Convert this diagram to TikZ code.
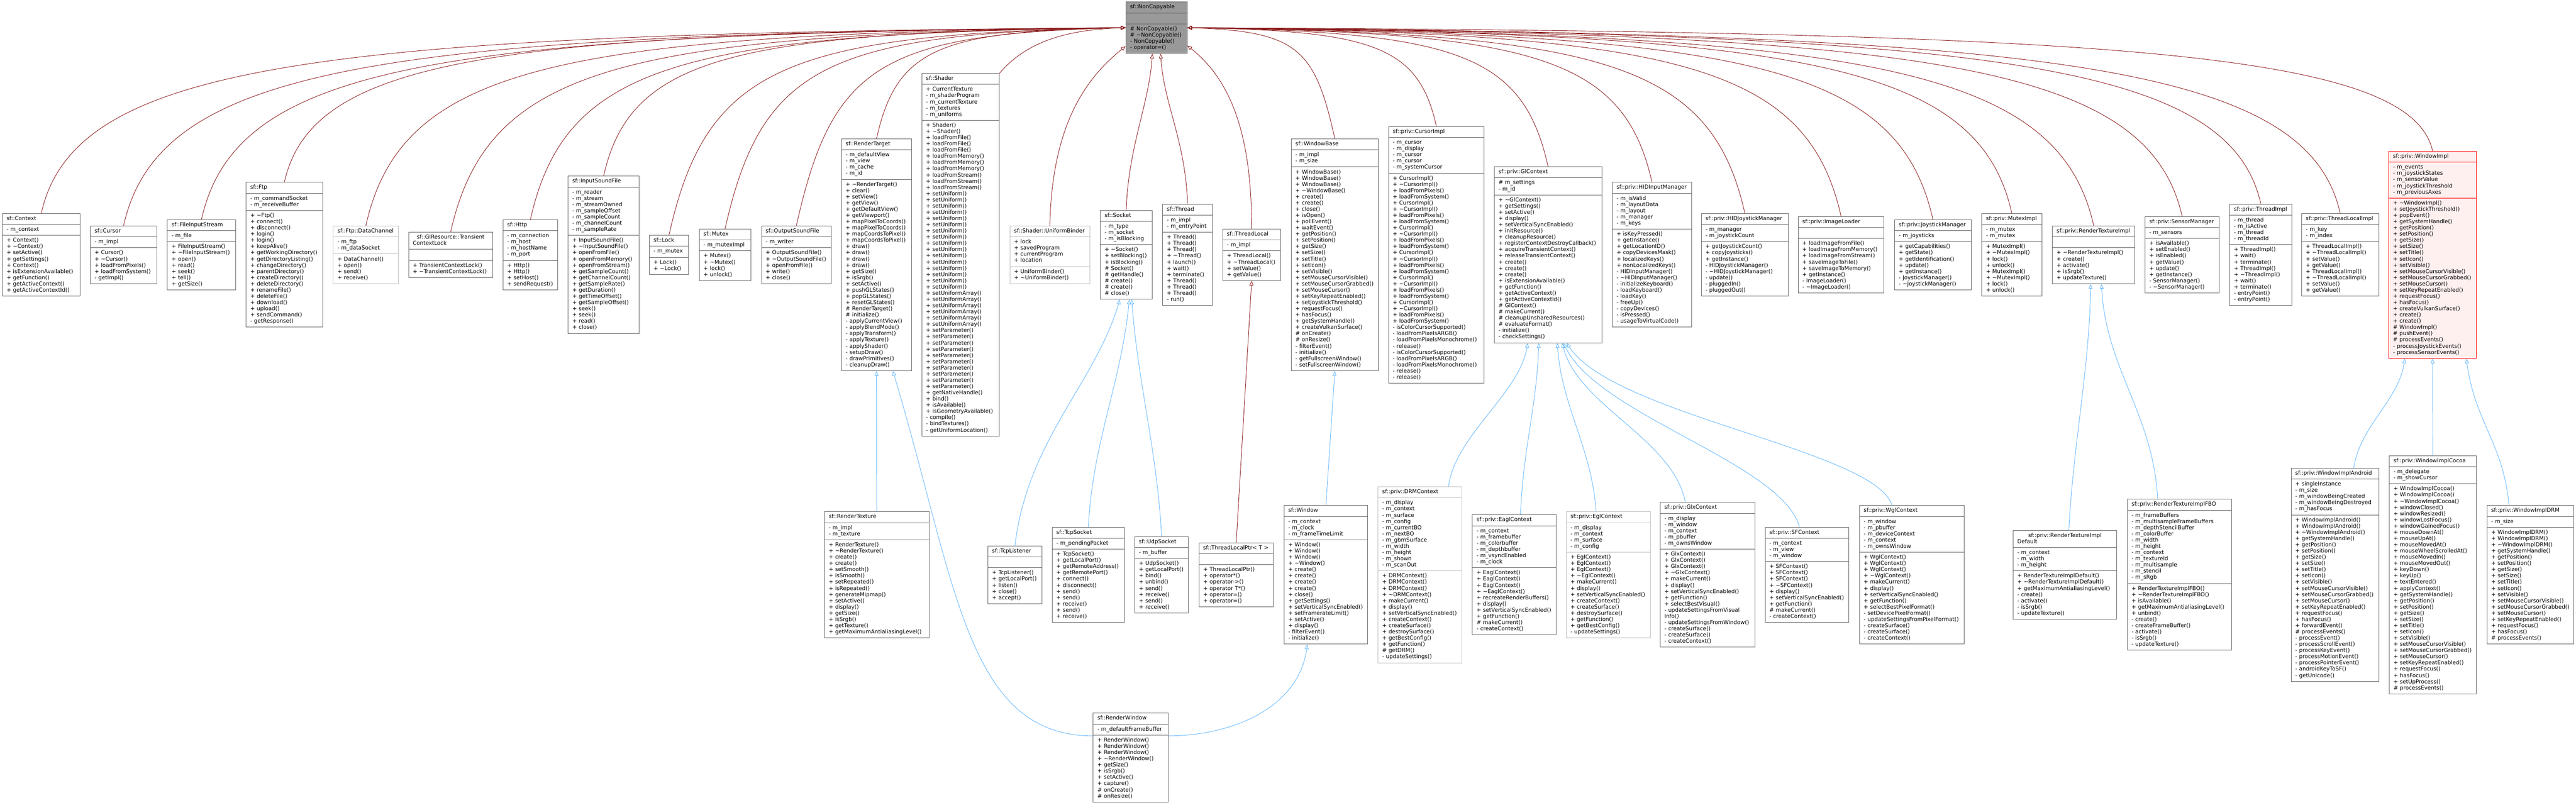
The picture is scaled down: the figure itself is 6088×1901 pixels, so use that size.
\documentclass[tikz,border=0pt]{standalone}
\usepackage[usenames,dvipsnames]{xcolor}
\usepackage{fontspec}
\setmainfont{DejaVu Sans}
\usetikzlibrary{shapes.multipart}
\usetikzlibrary{arrows.meta}
\definecolor{nodegray}{HTML}{666666}
\definecolor{undocgray}{HTML}{BFBFBF}
\definecolor{basegray}{HTML}{999999}
\definecolor{firebrick}{HTML}{8B1A1A}
\definecolor{steelblue}{HTML}{63B8FF}
\definecolor{focusred}{HTML}{FF0000}
\definecolor{focusfill}{HTML}{FFF0F0}
\newcommand{\tld}{\textasciitilde}
\setlength{\parindent}{0pt}
\tikzstyle{cls}=[rectangle split, rectangle split parts=3, draw=nodegray, fill=white, line width=1.2pt, inner xsep=10pt, inner ysep=5pt, anchor=west, align=left, font=\fontsize{12.9}{14.7}\selectfont]
\tikzstyle{undoc}=[draw=undocgray]
\tikzstyle{priv}=[draw=firebrick, line width=1.1pt, -{Triangle[open,length=11pt,width=9pt]}]
\tikzstyle{pub}=[draw=steelblue, line width=1.1pt, -{Triangle[open,length=11pt,width=9pt]}]

\begin{document}
\begin{tikzpicture}[x=1pt,y=-1pt]
	\fill[white] (0,0) rectangle (6088,1901);
	\useasboundingbox (0,0) rectangle (6088,1901);

	\node(nc)[cls, fill=basegray, text width=125pt] at (2660,65.5) {\centering\strut sf::NonCopyable\strut
		\nodepart{two}\strut
		\nodepart{three}\strut\#~NonCopyable()\\\#~\tld NonCopyable()\\-~NonCopyable()\\-~operator=()\strut};

	\node(ctx)[cls, text width=164pt] at (5,602) {\centering\strut sf::Context\strut
		\nodepart{two}\strut-~m\_context\strut
		\nodepart{three}\strut+~Context()\\+~\tld Context()\\+~setActive()\\+~getSettings()\\+~Context()\\+~isExtensionAvailable()\\+~getFunction()\\+~getActiveContext()\\+~getActiveContextId()\strut};
	\node(cursor)[cls, text width=137pt] at (213,602) {\centering\strut sf::Cursor\strut
		\nodepart{two}\strut-~m\_impl\strut
		\nodepart{three}\strut+~Cursor()\\+~\tld Cursor()\\+~loadFromPixels()\\+~loadFromSystem()\\-~getImpl()\strut};
	\node(fis)[cls, text width=141pt] at (395,602) {\centering\strut sf::FileInputStream\strut
		\nodepart{two}\strut-~m\_file\strut
		\nodepart{three}\strut+~FileInputStream()\\+~\tld FileInputStream()\\+~open()\\+~read()\\+~seek()\\+~tell()\\+~getSize()\strut};
	\node(ftp)[cls, text width=161pt] at (581,602) {\centering\strut sf::Ftp\strut
		\nodepart{two}\strut-~m\_commandSocket\\-~m\_receiveBuffer\strut
		\nodepart{three}\strut+~\tld Ftp()\\+~connect()\\+~disconnect()\\+~login()\\+~login()\\+~keepAlive()\\+~getWorkingDirectory()\\+~getDirectoryListing()\\+~changeDirectory()\\+~parentDirectory()\\+~createDirectory()\\+~deleteDirectory()\\+~renameFile()\\+~deleteFile()\\+~download()\\+~upload()\\+~sendCommand()\\-~getResponse()\strut};
	\node(dchan)[cls, undoc, text width=134pt] at (787,602) {\centering\strut sf::Ftp::DataChannel\strut
		\nodepart{two}\strut-~m\_ftp\\-~m\_dataSocket\strut
		\nodepart{three}\strut+~DataChannel()\\+~open()\\+~send()\\+~receive()\strut};
	\node(tcl)[cls, text width=179pt] at (965,602) {\centering\strut sf::GlResource::Transient\\ContextLock\strut
		\nodepart{two}\strut
		\nodepart{three}\strut+~TransientContextLock()\\+~\tld TransientContextLock()\strut};
	\node(http)[cls, text width=110pt] at (1188,602) {\centering\strut sf::Http\strut
		\nodepart{two}\strut-~m\_connection\\-~m\_host\\-~m\_hostName\\-~m\_port\strut
		\nodepart{three}\strut+~Http()\\+~Http()\\+~setHost()\\+~sendRequest()\strut};
	\node(isf)[cls, text width=148pt] at (1342,602) {\centering\strut sf::InputSoundFile\strut
		\nodepart{two}\strut-~m\_reader\\-~m\_stream\\-~m\_streamOwned\\-~m\_sampleOffset\\-~m\_sampleCount\\-~m\_channelCount\\-~m\_sampleRate\strut
		\nodepart{three}\strut+~InputSoundFile()\\+~\tld InputSoundFile()\\+~openFromFile()\\+~openFromMemory()\\+~openFromStream()\\+~getSampleCount()\\+~getChannelCount()\\+~getSampleRate()\\+~getDuration()\\+~getTimeOffset()\\+~getSampleOffset()\\+~seek()\\+~seek()\\+~read()\\+~close()\strut};
	\node(lock)[cls, text width=73pt] at (1534,602) {\centering\strut sf::Lock\strut
		\nodepart{two}\strut-~m\_mutex\strut
		\nodepart{three}\strut+~Lock()\\+~\tld Lock()\strut};
	\node(mutex)[cls, text width=102pt] at (1652,602) {\centering\strut sf::Mutex\strut
		\nodepart{two}\strut-~m\_mutexImpl\strut
		\nodepart{three}\strut+~Mutex()\\+~\tld Mutex()\\+~lock()\\+~unlock()\strut};
	\node(osf)[cls, text width=145pt] at (1799,602) {\centering\strut sf::OutputSoundFile\strut
		\nodepart{two}\strut-~m\_writer\strut
		\nodepart{three}\strut+~OutputSoundFile()\\+~\tld OutputSoundFile()\\+~openFromFile()\\+~write()\\+~close()\strut};
	\node(rtarget)[cls, text width=146pt] at (1988,602) {\centering\strut sf::RenderTarget\strut
		\nodepart{two}\strut-~m\_defaultView\\-~m\_view\\-~m\_cache\\-~m\_id\strut
		\nodepart{three}\strut+~\tld RenderTarget()\\+~clear()\\+~setView()\\+~getView()\\+~getDefaultView()\\+~getViewport()\\+~mapPixelToCoords()\\+~mapPixelToCoords()\\+~mapCoordsToPixel()\\+~mapCoordsToPixel()\\+~draw()\\+~draw()\\+~draw()\\+~draw()\\+~getSize()\\+~isSrgb()\\+~setActive()\\+~pushGLStates()\\+~popGLStates()\\+~resetGLStates()\\\#~RenderTarget()\\\#~initialize()\\-~applyCurrentView()\\-~applyBlendMode()\\-~applyTransform()\\-~applyTexture()\\-~applyShader()\\-~setupDraw()\\-~drawPrimitives()\\-~cleanupDraw()\strut};
	\node(shader)[cls, text width=163pt] at (2178,602) {\centering\strut sf::Shader\strut
		\nodepart{two}\strut+~CurrentTexture\\-~m\_shaderProgram\\-~m\_currentTexture\\-~m\_textures\\-~m\_uniforms\strut
		\nodepart{three}\strut+~Shader()\\+~\tld Shader()\\+~loadFromFile()\\+~loadFromFile()\\+~loadFromFile()\\+~loadFromMemory()\\+~loadFromMemory()\\+~loadFromMemory()\\+~loadFromStream()\\+~loadFromStream()\\+~loadFromStream()\\+~setUniform()\\+~setUniform()\\+~setUniform()\\+~setUniform()\\+~setUniform()\\+~setUniform()\\+~setUniform()\\+~setUniform()\\+~setUniform()\\+~setUniform()\\+~setUniform()\\+~setUniform()\\+~setUniform()\\+~setUniform()\\+~setUniform()\\+~setUniform()\\+~setUniformArray()\\+~setUniformArray()\\+~setUniformArray()\\+~setUniformArray()\\+~setUniformArray()\\+~setUniformArray()\\+~setParameter()\\+~setParameter()\\+~setParameter()\\+~setParameter()\\+~setParameter()\\+~setParameter()\\+~setParameter()\\+~setParameter()\\+~setParameter()\\+~setParameter()\\+~getNativeHandle()\\+~bind()\\+~isAvailable()\\+~isGeometryAvailable()\\-~compile()\\-~bindTextures()\\-~getUniformLocation()\strut};
	\node(ubinder)[cls, undoc, text width=169pt] at (2386,602) {\centering\strut sf::Shader::UniformBinder\strut
		\nodepart{two}\strut+~lock\\+~savedProgram\\+~currentProgram\\+~location\strut
		\nodepart{three}\strut+~UniformBinder()\\+~\tld UniformBinder()\strut};
	\node(socket)[cls, text width=102pt] at (2600,602) {\centering\strut sf::Socket\strut
		\nodepart{two}\strut-~m\_type\\-~m\_socket\\-~m\_isBlocking\strut
		\nodepart{three}\strut+~\tld Socket()\\+~setBlocking()\\+~isBlocking()\\\#~Socket()\\\#~getHandle()\\\#~create()\\\#~create()\\\#~close()\strut};
	\node(thread)[cls, text width=98pt] at (2747,602) {\centering\strut sf::Thread\strut
		\nodepart{two}\strut-~m\_impl\\-~m\_entryPoint\strut
		\nodepart{three}\strut+~Thread()\\+~Thread()\\+~Thread()\\+~\tld Thread()\\+~launch()\\+~wait()\\+~terminate()\\+~Thread()\\+~Thread()\\+~Thread()\\-~run()\strut};
	\node(tlocal)[cls, text width=117pt] at (2889,602) {\centering\strut sf::ThreadLocal\strut
		\nodepart{two}\strut-~m\_impl\strut
		\nodepart{three}\strut+~ThreadLocal()\\+~\tld ThreadLocal()\\+~setValue()\\+~getValue()\strut};
	\node(wbase)[cls, text width=186pt] at (3051,602) {\centering\strut sf::WindowBase\strut
		\nodepart{two}\strut-~m\_impl\\-~m\_size\strut
		\nodepart{three}\strut+~WindowBase()\\+~WindowBase()\\+~WindowBase()\\+~\tld WindowBase()\\+~create()\\+~create()\\+~close()\\+~isOpen()\\+~pollEvent()\\+~waitEvent()\\+~getPosition()\\+~setPosition()\\+~getSize()\\+~setSize()\\+~setTitle()\\+~setIcon()\\+~setVisible()\\+~setMouseCursorVisible()\\+~setMouseCursorGrabbed()\\+~setMouseCursor()\\+~setKeyRepeatEnabled()\\+~setJoystickThreshold()\\+~requestFocus()\\+~hasFocus()\\+~getSystemHandle()\\+~createVulkanSurface()\\\#~onCreate()\\\#~onResize()\\-~filterEvent()\\-~initialize()\\-~getFullscreenWindow()\\-~setFullscreenWindow()\strut};
	\node(cimpl)[cls, text width=206pt] at (3281,602) {\centering\strut sf::priv::CursorImpl\strut
		\nodepart{two}\strut-~m\_cursor\\-~m\_display\\-~m\_cursor\\-~m\_cursor\\-~m\_systemCursor\strut
		\nodepart{three}\strut+~CursorImpl()\\+~\tld CursorImpl()\\+~loadFromPixels()\\+~loadFromSystem()\\+~CursorImpl()\\+~\tld CursorImpl()\\+~loadFromPixels()\\+~loadFromSystem()\\+~CursorImpl()\\+~\tld CursorImpl()\\+~loadFromPixels()\\+~loadFromSystem()\\+~CursorImpl()\\+~\tld CursorImpl()\\+~loadFromPixels()\\+~loadFromSystem()\\+~CursorImpl()\\+~\tld CursorImpl()\\+~loadFromPixels()\\+~loadFromSystem()\\+~CursorImpl()\\+~\tld CursorImpl()\\+~loadFromPixels()\\+~loadFromSystem()\\-~isColorCursorSupported()\\-~loadFromPixelsARGB()\\-~loadFromPixelsMonochrome()\\-~release()\\-~isColorCursorSupported()\\-~loadFromPixelsARGB()\\-~loadFromPixelsMonochrome()\\-~release()\\-~release()\strut};
	\node(glctx)[cls, text width=234pt] at (3531,602) {\centering\strut sf::priv::GlContext\strut
		\nodepart{two}\strut\#~m\_settings\\-~m\_id\strut
		\nodepart{three}\strut+~\tld GlContext()\\+~getSettings()\\+~setActive()\\+~display()\\+~setVerticalSyncEnabled()\\+~initResource()\\+~cleanupResource()\\+~registerContextDestroyCallback()\\+~acquireTransientContext()\\+~releaseTransientContext()\\+~create()\\+~create()\\+~create()\\+~isExtensionAvailable()\\+~getFunction()\\+~getActiveContext()\\+~getActiveContextId()\\\#~GlContext()\\\#~makeCurrent()\\\#~cleanupUnsharedResources()\\\#~evaluateFormat()\\-~initialize()\\-~checkSettings()\strut};
	\node(hidin)[cls, text width=167pt] at (3810,602) {\centering\strut sf::priv::HIDInputManager\strut
		\nodepart{two}\strut-~m\_isValid\\-~m\_layoutData\\-~m\_layout\\-~m\_manager\\-~m\_keys\strut
		\nodepart{three}\strut+~isKeyPressed()\\+~getInstance()\\+~getLocationID()\\+~copyDevicesMask()\\+~localizedKeys()\\+~nonLocalizedKeys()\\-~HIDInputManager()\\-~\tld HIDInputManager()\\-~initializeKeyboard()\\-~loadKeyboard()\\-~loadKey()\\-~freeUp()\\-~copyDevices()\\-~isPressed()\\-~usageToVirtualCode()\strut};
	\node(hidjoy)[cls, text width=186pt] at (4020,602) {\centering\strut sf::priv::HIDJoystickManager\strut
		\nodepart{two}\strut-~m\_manager\\-~m\_joystickCount\strut
		\nodepart{three}\strut+~getJoystickCount()\\+~copyJoysticks()\\+~getInstance()\\-~HIDJoystickManager()\\-~\tld HIDJoystickManager()\\-~update()\\-~pluggedIn()\\-~pluggedOut()\strut};
	\node(imgld)[cls, text width=183pt] at (4249,602) {\centering\strut sf::priv::ImageLoader\strut
		\nodepart{two}\strut
		\nodepart{three}\strut+~loadImageFromFile()\\+~loadImageFromMemory()\\+~loadImageFromStream()\\+~saveImageToFile()\\+~saveImageToMemory()\\+~getInstance()\\-~ImageLoader()\\-~\tld ImageLoader()\strut};
	\node(joymgr)[cls, text width=161pt] at (4477,602) {\centering\strut sf::priv::JoystickManager\strut
		\nodepart{two}\strut-~m\_joysticks\strut
		\nodepart{three}\strut+~getCapabilities()\\+~getState()\\+~getIdentification()\\+~update()\\+~getInstance()\\-~JoystickManager()\\-~\tld JoystickManager()\strut};
	\node(mtximpl)[cls, text width=122pt] at (4683,602) {\centering\strut sf::priv::MutexImpl\strut
		\nodepart{two}\strut-~m\_mutex\\-~m\_mutex\strut
		\nodepart{three}\strut+~MutexImpl()\\+~\tld MutexImpl()\\+~lock()\\+~unlock()\\+~MutexImpl()\\+~\tld MutexImpl()\\+~lock()\\+~unlock()\strut};
	\node(rtimpl)[cls, text width=175pt] at (4850,602) {\centering\strut sf::priv::RenderTextureImpl\strut
		\nodepart{two}\strut
		\nodepart{three}\strut+~\tld RenderTextureImpl()\\+~create()\\+~activate()\\+~isSrgb()\\+~updateTexture()\strut};
	\node(sensmgr)[cls, text width=155pt] at (5069,602) {\centering\strut sf::priv::SensorManager\strut
		\nodepart{two}\strut-~m\_sensors\strut
		\nodepart{three}\strut+~isAvailable()\\+~setEnabled()\\+~isEnabled()\\+~getValue()\\+~update()\\+~getInstance()\\-~SensorManager()\\-~\tld SensorManager()\strut};
	\node(thrimpl)[cls, text width=127pt] at (5269,602) {\centering\strut sf::priv::ThreadImpl\strut
		\nodepart{two}\strut-~m\_thread\\-~m\_isActive\\-~m\_thread\\-~m\_threadId\strut
		\nodepart{three}\strut+~ThreadImpl()\\+~wait()\\+~terminate()\\+~ThreadImpl()\\+~\tld ThreadImpl()\\+~wait()\\+~terminate()\\-~entryPoint()\\-~entryPoint()\strut};
	\node(tlimpl)[cls, text width=162pt] at (5439,602) {\centering\strut sf::priv::ThreadLocalImpl\strut
		\nodepart{two}\strut-~m\_key\\-~m\_index\strut
		\nodepart{three}\strut+~ThreadLocalImpl()\\+~\tld ThreadLocalImpl()\\+~setValue()\\+~getValue()\\+~ThreadLocalImpl()\\+~\tld ThreadLocalImpl()\\+~setValue()\\+~getValue()\strut};
	\node(wimpl)[cls, draw=focusred, fill=focusfill, text width=187pt] at (5645,602) {\centering\strut sf::priv::WindowImpl\strut
		\nodepart{two}\strut-~m\_events\\-~m\_joystickStates\\-~m\_sensorValue\\-~m\_joystickThreshold\\-~m\_previousAxes\strut
		\nodepart{three}\strut+~\tld WindowImpl()\\+~setJoystickThreshold()\\+~popEvent()\\+~getSystemHandle()\\+~getPosition()\\+~setPosition()\\+~getSize()\\+~setSize()\\+~setTitle()\\+~setIcon()\\+~setVisible()\\+~setMouseCursorVisible()\\+~setMouseCursorGrabbed()\\+~setMouseCursor()\\+~setKeyRepeatEnabled()\\+~requestFocus()\\+~hasFocus()\\+~createVulkanSurface()\\+~create()\\+~create()\\\#~WindowImpl()\\\#~pushEvent()\\\#~processEvents()\\-~processJoystickEvents()\\-~processSensorEvents()\strut};

	\node(rtex)[cls, text width=227pt] at (1948,1358) {\centering\strut sf::RenderTexture\strut
		\nodepart{two}\strut-~m\_impl\\-~m\_texture\strut
		\nodepart{three}\strut+~RenderTexture()\\+~\tld RenderTexture()\\+~create()\\+~create()\\+~setSmooth()\\+~isSmooth()\\+~setRepeated()\\+~isRepeated()\\+~generateMipmap()\\+~setActive()\\+~display()\\+~getSize()\\+~isSrgb()\\+~getTexture()\\+~getMaximumAntialiasingLevel()\strut};
	\node(tcplist)[cls, text width=108pt] at (2334,1358) {\centering\strut sf::TcpListener\strut
		\nodepart{two}\strut
		\nodepart{three}\strut+~TcpListener()\\+~getLocalPort()\\+~listen()\\+~close()\\+~accept()\strut};
	\node(tcpsock)[cls, text width=151pt] at (2486,1358) {\centering\strut sf::TcpSocket\strut
		\nodepart{two}\strut-~m\_pendingPacket\strut
		\nodepart{three}\strut+~TcpSocket()\\+~getLocalPort()\\+~getRemoteAddress()\\+~getRemotePort()\\+~connect()\\+~disconnect()\\+~send()\\+~send()\\+~receive()\\+~send()\\+~receive()\strut};
	\node(udpsock)[cls, text width=107pt] at (2681,1358) {\centering\strut sf::UdpSocket\strut
		\nodepart{two}\strut-~m\_buffer\strut
		\nodepart{three}\strut+~UdpSocket()\\+~getLocalPort()\\+~bind()\\+~unbind()\\+~send()\\+~receive()\\+~send()\\+~receive()\strut};
	\node(tlptr)[cls, text width=156pt] at (2833,1358) {\centering\strut sf::ThreadLocalPtr<~T~>\strut
		\nodepart{two}\strut
		\nodepart{three}\strut+~ThreadLocalPtr()\\+~operator*()\\+~operator->()\\+~operator~T*()\\+~operator=()\\+~operator=()\strut};
	\node(window)[cls, text width=178pt] at (3034,1358) {\centering\strut sf::Window\strut
		\nodepart{two}\strut-~m\_context\\-~m\_clock\\-~m\_frameTimeLimit\strut
		\nodepart{three}\strut+~Window()\\+~Window()\\+~Window()\\+~\tld Window()\\+~create()\\+~create()\\+~create()\\+~create()\\+~close()\\+~getSettings()\\+~setVerticalSyncEnabled()\\+~setFramerateLimit()\\+~setActive()\\+~display()\\-~filterEvent()\\-~initialize()\strut};
	\node(drm)[cls, undoc, text width=178pt] at (3256,1358) {\centering\strut sf::priv::DRMContext\strut
		\nodepart{two}\strut-~m\_display\\-~m\_context\\-~m\_surface\\-~m\_config\\-~m\_currentBO\\-~m\_nextBO\\-~m\_gbmSurface\\-~m\_width\\-~m\_height\\-~m\_shown\\-~m\_scanOut\strut
		\nodepart{three}\strut+~DRMContext()\\+~DRMContext()\\+~DRMContext()\\+~\tld DRMContext()\\+~makeCurrent()\\+~display()\\+~setVerticalSyncEnabled()\\+~createContext()\\+~createSurface()\\+~destroySurface()\\+~getBestConfig()\\+~getFunction()\\\#~getDRM()\\-~updateSettings()\strut};
	\node(eagl)[cls, text width=178pt] at (3479,1358) {\centering\strut sf::priv::EaglContext\strut
		\nodepart{two}\strut-~m\_context\\-~m\_framebuffer\\-~m\_colorbuffer\\-~m\_depthbuffer\\-~m\_vsyncEnabled\\-~m\_clock\strut
		\nodepart{three}\strut+~EaglContext()\\+~EaglContext()\\+~EaglContext()\\+~\tld EaglContext()\\+~recreateRenderBuffers()\\+~display()\\+~setVerticalSyncEnabled()\\+~getFunction()\\\#~makeCurrent()\\-~createContext()\strut};
	\node(egl)[cls, undoc, text width=179pt] at (3701,1358) {\centering\strut sf::priv::EglContext\strut
		\nodepart{two}\strut-~m\_display\\-~m\_context\\-~m\_surface\\-~m\_config\strut
		\nodepart{three}\strut+~EglContext()\\+~EglContext()\\+~EglContext()\\+~\tld EglContext()\\+~makeCurrent()\\+~display()\\+~setVerticalSyncEnabled()\\+~createContext()\\+~createSurface()\\+~destroySurface()\\+~getFunction()\\+~getBestConfig()\\-~updateSettings()\strut};
	\node(glx)[cls, text width=204pt] at (3923,1358) {\centering\strut sf::priv::GlxContext\strut
		\nodepart{two}\strut-~m\_display\\-~m\_window\\-~m\_context\\-~m\_pbuffer\\-~m\_ownsWindow\strut
		\nodepart{three}\strut+~GlxContext()\\+~GlxContext()\\+~GlxContext()\\+~\tld GlxContext()\\+~makeCurrent()\\+~display()\\+~setVerticalSyncEnabled()\\+~getFunction()\\+~selectBestVisual()\\-~updateSettingsFromVisual\\Info()\\-~updateSettingsFromWindow()\\-~createSurface()\\-~createSurface()\\-~createContext()\strut};
	\node(sfctx)[cls, text width=178pt] at (4171,1358) {\centering\strut sf::priv::SFContext\strut
		\nodepart{two}\strut-~m\_context\\-~m\_view\\-~m\_window\strut
		\nodepart{three}\strut+~SFContext()\\+~SFContext()\\+~SFContext()\\+~\tld SFContext()\\+~display()\\+~setVerticalSyncEnabled()\\+~getFunction()\\\#~makeCurrent()\\-~createContext()\strut};
	\node(wgl)[cls, text width=228pt] at (4394,1358) {\centering\strut sf::priv::WglContext\strut
		\nodepart{two}\strut-~m\_window\\-~m\_pbuffer\\-~m\_deviceContext\\-~m\_context\\-~m\_ownsWindow\strut
		\nodepart{three}\strut+~WglContext()\\+~WglContext()\\+~WglContext()\\+~\tld WglContext()\\+~makeCurrent()\\+~display()\\+~setVerticalSyncEnabled()\\+~getFunction()\\+~selectBestPixelFormat()\\-~setDevicePixelFormat()\\-~updateSettingsFromPixelFormat()\\-~createSurface()\\-~createSurface()\\-~createContext()\strut};
	\node(rtdef)[cls, text width=225pt] at (4757,1358) {\centering\strut sf::priv::RenderTextureImpl\\Default\strut
		\nodepart{two}\strut-~m\_context\\-~m\_width\\-~m\_height\strut
		\nodepart{three}\strut+~RenderTextureImplDefault()\\+~\tld RenderTextureImplDefault()\\+~getMaximumAntialiasingLevel()\\-~create()\\-~activate()\\-~isSrgb()\\-~updateTexture()\strut};
	\node(rtfbo)[cls, text width=226pt] at (5027,1358) {\centering\strut sf::priv::RenderTextureImplFBO\strut
		\nodepart{two}\strut-~m\_frameBuffers\\-~m\_multisampleFrameBuffers\\-~m\_depthStencilBuffer\\-~m\_colorBuffer\\-~m\_width\\-~m\_height\\-~m\_context\\-~m\_textureId\\-~m\_multisample\\-~m\_stencil\\-~m\_sRgb\strut
		\nodepart{three}\strut+~RenderTextureImplFBO()\\+~\tld RenderTextureImplFBO()\\+~isAvailable()\\+~getMaximumAntialiasingLevel()\\+~unbind()\\-~create()\\-~createFrameBuffer()\\-~activate()\\-~isSrgb()\\-~updateTexture()\strut};
	\node(android)[cls, text width=187pt] at (5414,1358) {\centering\strut sf::priv::WindowImplAndroid\strut
		\nodepart{two}\strut+~singleInstance\\-~m\_size\\-~m\_windowBeingCreated\\-~m\_windowBeingDestroyed\\-~m\_hasFocus\strut
		\nodepart{three}\strut+~WindowImplAndroid()\\+~WindowImplAndroid()\\+~\tld WindowImplAndroid()\\+~getSystemHandle()\\+~getPosition()\\+~setPosition()\\+~getSize()\\+~setSize()\\+~setTitle()\\+~setIcon()\\+~setVisible()\\+~setMouseCursorVisible()\\+~setMouseCursorGrabbed()\\+~setMouseCursor()\\+~setKeyRepeatEnabled()\\+~requestFocus()\\+~hasFocus()\\+~forwardEvent()\\\#~processEvents()\\-~processEvent()\\-~processScrollEvent()\\-~processKeyEvent()\\-~processMotionEvent()\\-~processPointerEvent()\\-~androidKeyToSF()\\-~getUnicode()\strut};
	\node(cocoa)[cls, text width=186pt] at (5646,1358) {\centering\strut sf::priv::WindowImplCocoa\strut
		\nodepart{two}\strut-~m\_delegate\\-~m\_showCursor\strut
		\nodepart{three}\strut+~WindowImplCocoa()\\+~WindowImplCocoa()\\+~\tld WindowImplCocoa()\\+~windowClosed()\\+~windowResized()\\+~windowLostFocus()\\+~windowGainedFocus()\\+~mouseDownAt()\\+~mouseUpAt()\\+~mouseMovedAt()\\+~mouseWheelScrolledAt()\\+~mouseMovedIn()\\+~mouseMovedOut()\\+~keyDown()\\+~keyUp()\\+~textEntered()\\+~applyContext()\\+~getSystemHandle()\\+~getPosition()\\+~setPosition()\\+~getSize()\\+~setSize()\\+~setTitle()\\+~setIcon()\\+~setVisible()\\+~setMouseCursorVisible()\\+~setMouseCursorGrabbed()\\+~setMouseCursor()\\+~setKeyRepeatEnabled()\\+~requestFocus()\\+~hasFocus()\\+~setUpProcess()\\\#~processEvents()\strut};
	\node(drmwin)[cls, text width=185pt] at (5877,1358) {\centering\strut sf::priv::WindowImplDRM\strut
		\nodepart{two}\strut-~m\_size\strut
		\nodepart{three}\strut+~WindowImplDRM()\\+~WindowImplDRM()\\+~\tld WindowImplDRM()\\+~getSystemHandle()\\+~getPosition()\\+~setPosition()\\+~getSize()\\+~setSize()\\+~setTitle()\\+~setIcon()\\+~setVisible()\\+~setMouseCursorVisible()\\+~setMouseCursorGrabbed()\\+~setMouseCursor()\\+~setKeyRepeatEnabled()\\+~requestFocus()\\+~hasFocus()\\\#~processEvents()\strut};

	\node(rwin)[cls, text width=157pt] at (2583,1790) {\centering\strut sf::RenderWindow\strut
		\nodepart{two}\strut-~m\_defaultFrameBuffer\strut
		\nodepart{three}\strut+~RenderWindow()\\+~RenderWindow()\\+~RenderWindow()\\+~\tld RenderWindow()\\+~getSize()\\+~isSrgb()\\+~setActive()\\+~capture()\\\#~onCreate()\\\#~onResize()\strut};

	\draw[priv] (ctx.north) .. controls +(79,-352) and +(-1922,13) .. (nc.west);
	\draw[priv] (cursor.north) .. controls +(84,-375) and +(-1776,14) .. (nc.west);
	\draw[priv] (fis.north) .. controls +(82,-364) and +(-1638,14) .. (nc.west);
	\draw[priv] (ftp.north) .. controls +(66,-293) and +(-1491,11) .. (nc.west);
	\draw[priv] (dchan.north) .. controls +(84,-375) and +(-1347,14) .. (nc.west);
	\draw[priv] (tcl.north) .. controls +(87,-387) and +(-1197,15) .. (nc.west);
	\draw[priv] (http.north) .. controls +(82,-364) and +(-1055,14) .. (nc.west);
	\draw[priv] (isf.north) .. controls +(63,-281) and +(-926,11) .. (nc.west);
	\draw[priv] (lock.north) .. controls +(88,-393) and +(-810,15) .. (nc.west);
	\draw[priv] (mutex.north) .. controls +(86,-381) and +(-710,14) .. (nc.west);
	\draw[priv] (osf.north) .. controls +(84,-375) and +(-584,14) .. (nc.west);
	\draw[priv] (rtarget.north) .. controls +(47,-211) and +(-442,8) .. (nc.west);
	\draw[priv] (shader.north east) .. controls +(60,-70) and +(-150,5) .. (nc.west);
	\draw[priv] (ubinder.north) .. controls +(5,-230) and +(-100,80) .. (nc.211.5);
	\draw[priv] (socket.north) .. controls +(5,-150) and +(-8,120) .. (nc.261);
	\draw[priv] (thread.north) .. controls +(-5,-150) and +(8,120) .. (nc.279);
	\draw[priv] (tlocal.north) .. controls +(0,-230) and +(100,80) .. (nc.330);
	\draw[priv] (wbase.north) .. controls +(-47,-211) and +(262,8) .. (nc.east);
	\draw[priv] (cimpl.north) .. controls +(-42,-187) and +(442,7) .. (nc.east);
	\draw[priv] (glctx.north) .. controls +(-59,-264) and +(640,10) .. (nc.east);
	\draw[priv] (hidin.north) .. controls +(-66,-293) and +(824,11) .. (nc.east);
	\draw[priv] (hidjoy.north) .. controls +(-79,-352) and +(989,13) .. (nc.east);
	\draw[priv] (imgld.north) .. controls +(-81,-358) and +(1159,13) .. (nc.east);
	\draw[priv] (joymgr.north) .. controls +(-82,-364) and +(1322,14) .. (nc.east);
	\draw[priv] (mtximpl.north) .. controls +(-79,-352) and +(1462,13) .. (nc.east);
	\draw[priv] (rtimpl.north) .. controls +(-84,-375) and +(1607,14) .. (nc.east);
	\draw[priv] (sensmgr.north) .. controls +(-81,-358) and +(1764,13) .. (nc.east);
	\draw[priv] (thrimpl.north) .. controls +(-75,-334) and +(1903,13) .. (nc.east);
	\draw[priv] (tlimpl.north) .. controls +(-79,-352) and +(2044,13) .. (nc.east);
	\draw[priv] (wimpl.north) .. controls +(-53,-234) and +(2208,9) .. (nc.east);
	\draw[priv] (tlptr.north) -- (tlocal.south);

	\draw[pub] (rtex.north) -- (rtarget.south);
	\draw[pub] (rwin.150) .. controls +(-300,0) and +(150,500) .. (rtarget.278);
	\draw[pub] (rwin.30) .. controls +(150,0) and +(-20,150) .. (window.255);
	\draw[pub] (window.north) -- (wbase.south);
	\draw[pub] (tcplist.north) .. controls +(30,-250) and +(-60,200) .. (socket.262);
	\draw[pub] (tcpsock.north) .. controls +(10,-200) and +(-20,200) .. (socket.274);
	\draw[pub] (udpsock.north) .. controls +(-10,-200) and +(15,200) .. (socket.277);
	\draw[pub] (drm.72) .. controls +(15,-120) and +(-20,120) .. (glctx.257);
	\draw[pub] (eagl.84) .. controls +(5,-150) and +(-5,150) .. (glctx.264);
	\draw[pub] (egl.101) .. controls +(-10,-150) and +(10,150) .. (glctx.276);
	\draw[pub] (glx.107) .. controls +(-30,-150) and +(40,150) .. (glctx.279);
	\draw[pub] (sfctx.99) .. controls +(-40,-150) and +(80,170) .. (glctx.280);
	\draw[pub] (wgl.106) .. controls +(-40,-130) and +(110,170) .. (glctx.282);
	\draw[pub] (rtdef.85) .. controls +(10,-200) and +(-3,200) .. (rtimpl.264);
	\draw[pub] (rtfbo.106) .. controls +(-10,-200) and +(10,200) .. (rtimpl.285);
	\draw[pub] (android.80) .. controls +(15,-100) and +(-15,100) .. (wimpl.255);
	\draw[pub] (cocoa.north) -- (wimpl.south);
	\draw[pub] (drmwin.107) .. controls +(-15,-150) and +(20,150) .. (wimpl.288);
\end{tikzpicture}
\end{document}
